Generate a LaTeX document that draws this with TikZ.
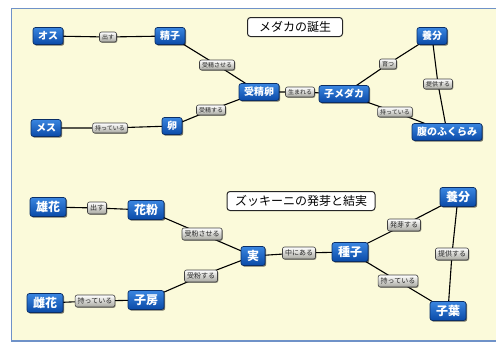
\documentclass[tikz,border=0pt]{standalone}
\usepackage{fontspec}
\newfontfamily\jp{Noto Sans CJK JP}
\usetikzlibrary{shadows}
\pgfdeclarelayer{framelayer}
\pgfdeclarelayer{edgelayer}
\pgfsetlayers{framelayer,edgelayer,main}
\definecolor{bgyellow}{HTML}{FBFADA}
\definecolor{framecol}{HTML}{6F92C8}
\definecolor{bluetop}{HTML}{3A86E0}
\definecolor{bluebot}{HTML}{0A4AA8}
\definecolor{blueedge}{HTML}{0A2E66}
\definecolor{graytop}{HTML}{FFFFFF}
\definecolor{graybot}{HTML}{A8A8A0}
\tikzset{
  conc/.style={rounded corners=2.5pt, draw=blueedge, line width=0.7pt,
    top color=bluetop, bottom color=bluebot, text=white,
    font=\jp\bfseries, inner sep=0pt, anchor=center,
    drop shadow={shadow xshift=1.2pt, shadow yshift=-1.2pt, opacity=0.55, fill=black}},
  concA/.style={conc, font=\jp\bfseries\fontsize{10}{10}\selectfont, minimum height=17pt, inner xsep=5pt},
  concB/.style={conc, font=\jp\bfseries\fontsize{12}{12}\selectfont, minimum height=19pt, inner xsep=6pt},
  lnk/.style={rounded corners=2pt, draw=black!75, line width=0.6pt,
    top color=graytop, bottom color=graybot, text=black!85,
    inner sep=0pt, anchor=center,
    drop shadow={shadow xshift=0.8pt, shadow yshift=-0.8pt, opacity=0.4, fill=black}},
  lnkA/.style={lnk, font=\jp\fontsize{6}{6}\selectfont, minimum height=10pt, inner xsep=2.5pt},
  lnkB/.style={lnk, font=\jp\fontsize{7}{7}\selectfont, minimum height=12pt, inner xsep=2.5pt},
  ttl/.style={rounded corners=3pt, draw=black!85, line width=1pt, fill=white,
    font=\jp\fontsize{12}{12}\selectfont, minimum height=19pt, inner sep=0pt, anchor=center},
  edge/.style={line width=1.1pt, black}
}
\begin{document}
\begin{tikzpicture}[x=1pt,y=-1pt]
\useasboundingbox (0,0) rectangle (496,343);
\clip (0,0) rectangle (496,343);
\begin{pgfonlayer}{framelayer}
\fill[white] (0,0) rectangle (496,343);
\draw[framecol, line width=1.6pt, fill=bgyellow] (11.5,8.5) rectangle (505,341);
\end{pgfonlayer}

% ---- top map ----
\node[ttl, minimum width=95pt] (t1) at (295,27) {メダカの誕生};
\node[concA] (osu) at (48,36) {オス};
\node[concA] (seishi) at (170,36) {精子};
\node[concA] (jusei) at (259,92) {受精卵};
\node[concA] (ran) at (172,126) {卵};
\node[concA] (mesu) at (46,128) {メス};
\node[concA] (komedaka) at (344,94) {子メダカ};
\node[concA] (youbun1) at (432,36) {養分};
\node[concA] (hara) at (447,132) {腹のふくらみ};

\node[lnkA] (l1) at (108,37) {出す};
\node[lnkA] (l2) at (217,65) {受精させる};
\node[lnkA] (l3) at (211,110) {受精する};
\node[lnkA] (l4) at (110,128) {持っている};
\node[lnkA] (l5) at (300,92) {生まれる};
\node[lnkA] (l6) at (388,64) {育つ};
\node[lnkA] (l7) at (438,84) {提供する};
\node[lnkA] (l8) at (395,112) {持っている};

% ---- bottom map ----
\node[ttl, minimum width=148pt] (t2) at (301,201) {ズッキーニの発芽と結実};
\node[concB] (ouka) at (48,207) {雄花};
\node[concB] (kafun) at (146,210) {花粉};
\node[concB] (mi) at (253,256) {実};
\node[concB] (shibou) at (146,300) {子房};
\node[concB] (shika) at (45,303) {雌花};
\node[concB] (shushi) at (350,252) {種子};
\node[concB] (youbun2) at (458,197) {養分};
\node[concB] (shiyou) at (448,311) {子葉};

\node[lnkB] (m1) at (97,208) {出す};
\node[lnkB] (m2) at (202,234) {受粉させる};
\node[lnkB] (m3) at (201,276) {受粉する};
\node[lnkB] (m4) at (95,301) {持っている};
\node[lnkB] (m5) at (299,253) {中にある};
\node[lnkB] (m6) at (404,225) {発芽する};
\node[lnkB] (m7) at (452,254) {提供する};
\node[lnkB] (m8) at (398,281) {持っている};

\begin{pgfonlayer}{edgelayer}
\draw[edge] (osu.center) -- (l1.center) -- (seishi.center);
\draw[edge] (seishi.center) -- (l2.center) -- (jusei.center);
\draw[edge] (ran.center) -- (l3.center) -- (jusei.center);
\draw[edge] (mesu.center) -- (l4.center) -- (ran.center);
\draw[edge] (jusei.center) -- (l5.center) -- (komedaka.center);
\draw[edge] (komedaka.center) -- (l6.center) -- (youbun1.center);
\draw[edge] (youbun1.center) -- (l7.center) -- (hara.center);
\draw[edge] (komedaka.center) -- (l8.center) -- (hara.center);

\draw[edge] (ouka.center) -- (m1.center) -- (kafun.center);
\draw[edge] (kafun.center) -- (m2.center) -- (mi.center);
\draw[edge] (shibou.center) -- (m3.center) -- (mi.center);
\draw[edge] (shika.center) -- (m4.center) -- (shibou.center);
\draw[edge] (mi.center) -- (m5.center) -- (shushi.center);
\draw[edge] (shushi.center) -- (m6.center) -- (youbun2.center);
\draw[edge] (youbun2.center) -- (m7.center) -- (shiyou.center);
\draw[edge] (shushi.center) -- (m8.center) -- (shiyou.center);
\end{pgfonlayer}
\end{tikzpicture}
\end{document}
